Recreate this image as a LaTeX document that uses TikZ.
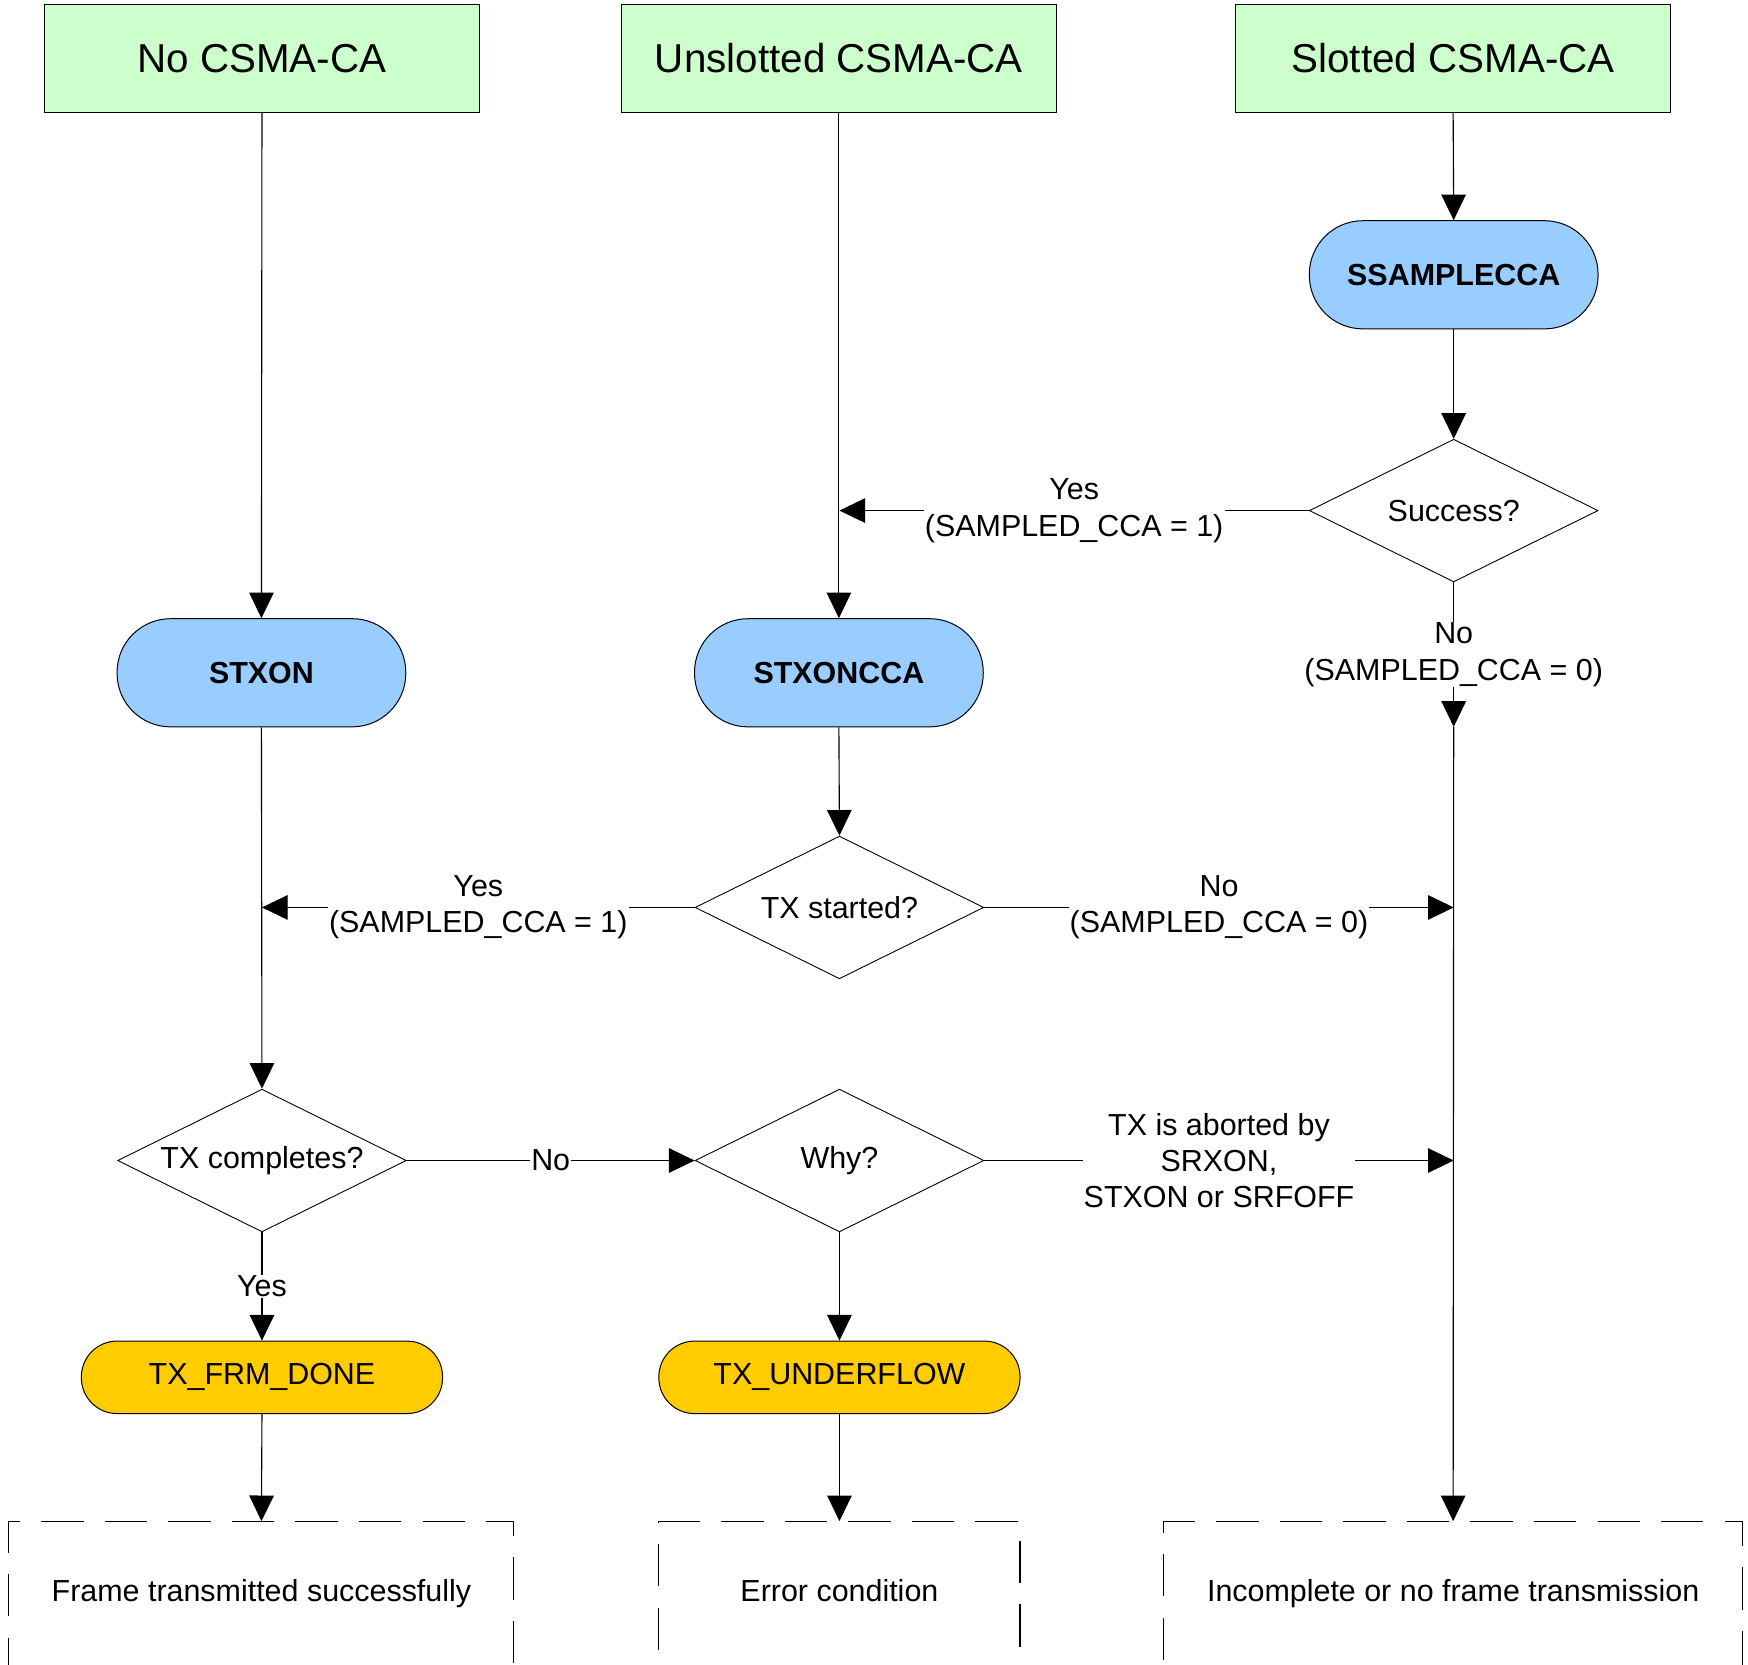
\documentclass[tikz,border=0pt]{standalone}
\usepackage{fontspec}
\setmainfont{Liberation Sans}
\usetikzlibrary{shapes.geometric,arrows.meta}
\definecolor{hgreen}{HTML}{CCFFCC}
\definecolor{sblue}{HTML}{99CCFF}
\definecolor{sgold}{HTML}{FFCC00}
\newcommand\lblfont{\fontsize{27.3}{32.5}\selectfont}
\newcommand\headfont{\fontsize{36.2}{42}\selectfont}
\begin{document}
\begin{tikzpicture}[x=1pt,y=-1pt,
  head/.style={draw=black, line width=1pt, fill=hgreen, minimum width=390pt, minimum height=97pt, inner sep=0pt, font=\headfont},
  strobe/.style={draw=black, line width=0.9pt, fill=sblue, rounded corners=48pt, minimum width=259pt, minimum height=97pt, inner sep=0pt, font=\lblfont\bfseries},
  evt/.style={draw=black, line width=0.9pt, fill=sgold, rounded corners=32pt, minimum width=324pt, minimum height=65pt, inner sep=0pt, font=\lblfont},
  dec/.style={diamond, draw=black, line width=0.8pt, aspect=2, minimum width=259pt, minimum height=128pt, inner sep=0pt, font=\lblfont},
  res/.style={draw=black, dash pattern=on 38pt off 19pt, line width=1pt, minimum height=130pt, inner sep=0pt, text height=19.6pt, text depth=5.7pt, font=\lblfont},
  lbl/.style={fill=white, inner sep=1pt, align=center, font=\lblfont},
  arr/.style={-{Triangle[length=23pt,width=22pt]}, line width=1pt},
  ln/.style={line width=1pt}
]
\useasboundingbox (0,0) rectangle (1568,1493);
\clip (0,0) rectangle (1568,1493);

% headers
\node[head] (t1) at (235,52.5) {No CSMA-CA};
\node[head] (t2) at (752.5,52.5) {Unslotted CSMA-CA};
\node[head] (t3) at (1303.5,52.5) {Slotted CSMA-CA};

% strobes
\node[strobe] (ssamp) at (1304,246.5) {SSAMPLECCA};
\node[strobe] (stxon) at (234.5,603.5) {STXON};
\node[strobe] (stxcca) at (752.5,603.5) {STXONCCA};

% decisions
\node[dec] (succ) at (1304,458) {Success?};
\node[dec] (txs) at (753,814) {TX started?};
\node[dec] (txc) at (235,1041) {TX completes?};
\node[dec] (why) at (753,1041) {Why?};

% events
\node[evt] (done) at (235,1235.5) {TX\_FRM\_DONE};
\node[evt] (under) at (753,1235.5) {TX\_UNDERFLOW};

% results
\node[res, minimum width=453pt] (r1) at (234.5,1430) {Frame transmitted successfully};
\node[res, minimum width=324pt] (r2) at (753,1430) {Error condition};
\node[res, minimum width=519pt] (r3) at (1303.5,1430) {Incomplete or no frame transmission};

% junction coordinates
\coordinate (cy1) at (753,458);
\coordinate (cs) at (1304,652);
\coordinate (cy2) at (235,814);
\coordinate (cn2) at (1304,814);
\coordinate (cn3) at (1304,1041);

% connectors
\draw[arr] (t1.south) -- (stxon.north);
\draw[arr] (t2.south) -- (stxcca.north);
\draw[arr] (t3.south) -- (ssamp.north);
\draw[arr] (ssamp.south) -- (succ.north);
\draw[arr] (succ.west) -- node[lbl] {Yes\\(SAMPLED\_CCA = 1)} (cy1);
\draw[arr] (succ.south) -- node[lbl] {No\\(SAMPLED\_CCA = 0)} (cs);
\draw[arr] (cs) -- (r3.north);
\draw[arr] (stxcca.south) -- (txs.north);
\draw[arr] (txs.west) -- node[lbl] {Yes\\(SAMPLED\_CCA = 1)} (cy2);
\draw[arr] (txs.east) -- node[lbl] {No\\(SAMPLED\_CCA = 0)} (cn2);
\draw[arr] (stxon.south) -- (txc.north);
\draw[arr] (txc.east) -- node[lbl] {No} (why.west);
\draw[arr] (why.east) -- node[lbl] {TX is aborted by\\SRXON,\\STXON or SRFOFF} (cn3);
\draw[arr] (txc.south) -- node[lbl] {Yes} (done.north);
\draw[arr] (why.south) -- (under.north);
\draw[arr] (done.south) -- (r1.north);
\draw[arr] (under.south) -- (r2.north);
\end{tikzpicture}
\end{document}
